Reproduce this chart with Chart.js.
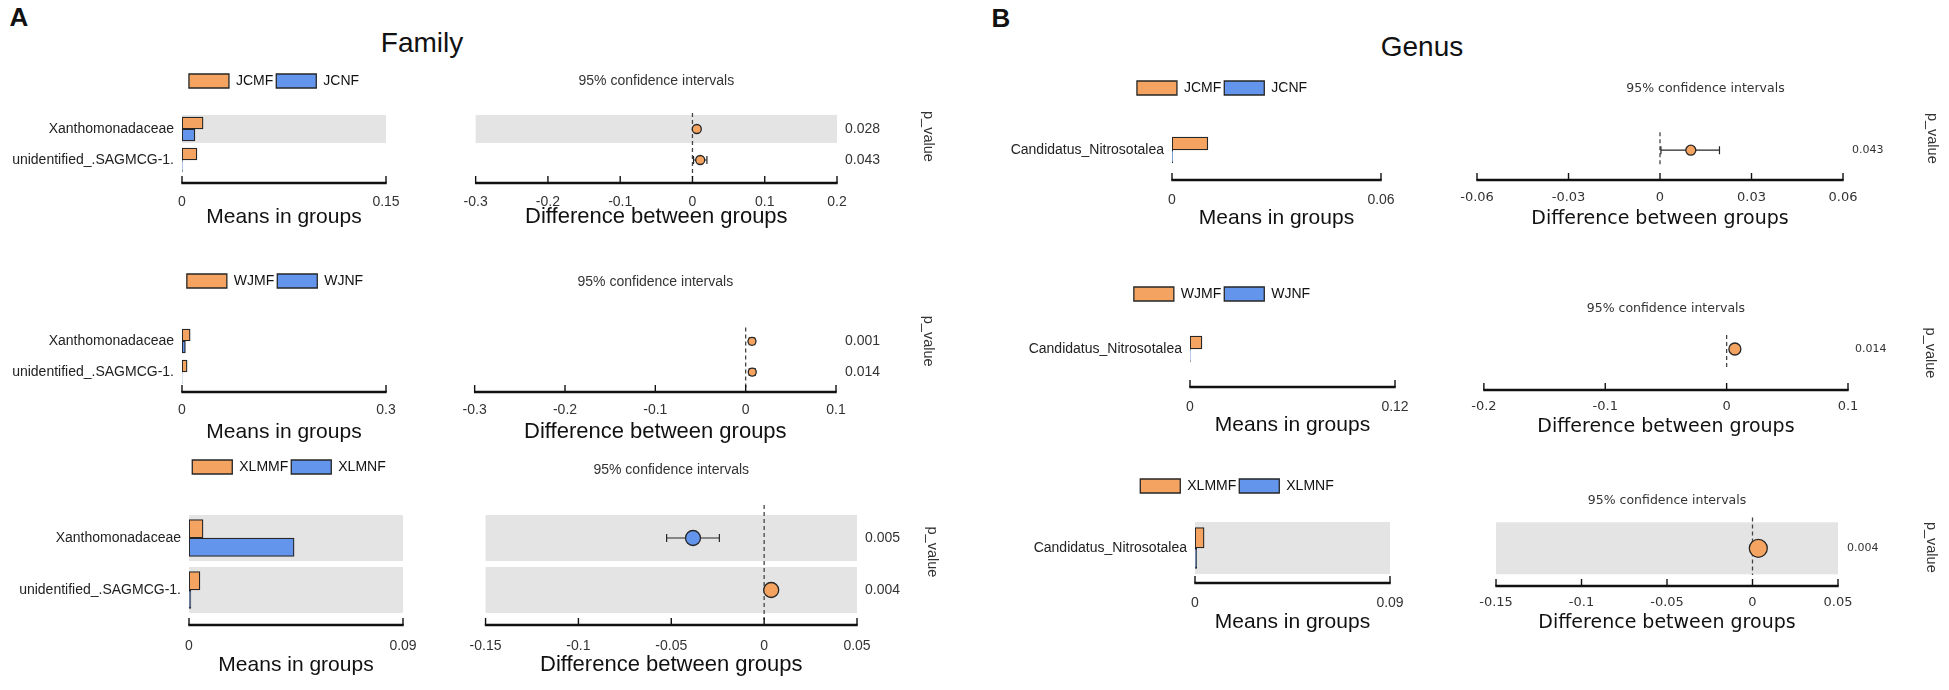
<!DOCTYPE html>
<html>
<head>
<meta charset="utf-8">
<script src="https://cdn.jsdelivr.net/npm/chart.js@4.4.1/dist/chart.umd.min.js"></script>
<style>
body { margin: 0; background: #fff; }
#fig { position: relative; width: 1949px; height: 690px; overflow: hidden; background: #fff; }
.lbl { position: absolute; font-family: "Liberation Sans", Arial, sans-serif; color: #111; white-space: nowrap; line-height: 1; transform: translate(-50%, -50%); }
</style>
</head>
<body>
<div id="fig">
  <div class="lbl" style="left:19px;top:17px;font-size:26px;font-weight:bold">A</div>
  <div class="lbl" style="left:1001px;top:18px;font-size:26px;font-weight:bold">B</div>
  <div class="lbl" style="left:422px;top:43px;font-size:28px">Family</div>
  <div class="lbl" style="left:1422px;top:47px;font-size:28px">Genus</div>
</div>
<script>
// ---- data ----
const familyTaxa = ['Xanthomonadaceae', 'unidentified_.SAGMCG-1.'];
const genusTaxa = ['Candidatus_Nitrosotalea'];

// Family: JCMF vs JCNF
const famJcmf = [0.0155, 0.011];
const famJcnf = [0.0095, 0.0003];
const famJcDiff = [0.006, 0.0107];
const famJcLow = [0.003, 0.0015];
const famJcHigh = [0.009, 0.02];
const famJcP = ['0.028', '0.043'];
const famJcMeanTicks = [0, 0.15];
const famJcDiffTicks = [-0.3, -0.2, -0.1, 0, 0.1, 0.2];

// Family: WJMF vs WJNF
const famWjmf = [0.012, 0.0075];
const famWjnf = [0.005, 0.0002];
const famWjDiff = [0.007, 0.0073];
const famWjLow = [0.004, 0.004];
const famWjHigh = [0.01, 0.0105];
const famWjP = ['0.001', '0.014'];
const famWjMeanTicks = [0, 0.3];
const famWjDiffTicks = [-0.3, -0.2, -0.1, 0, 0.1];

// Family: XLMMF vs XLMNF
const famXlmmf = [0.0059, 0.0046];
const famXlmnf = [0.0442, 0.0008];
const famXlmDiff = [-0.0383, 0.0038];
const famXlmLow = [-0.0525, 0.0015];
const famXlmHigh = [-0.0241, 0.006];
const famXlmP = ['0.005', '0.004'];
const famXlmMeanTicks = [0, 0.09];
const famXlmDiffTicks = [-0.15, -0.1, -0.05, 0, 0.05];

// Genus: JCMF vs JCNF
const genJcmf = [0.0103];
const genJcnf = [0.0002];
const genJcDiff = [0.0101];
const genJcLow = [0.0003];
const genJcHigh = [0.0195];
const genJcP = ['0.043'];
const genJcMeanTicks = [0, 0.06];
const genJcDiffTicks = [-0.06, -0.03, 0, 0.03, 0.06];

// Genus: WJMF vs WJNF
const genWjmf = [0.007];
const genWjnf = [0.0002];
const genWjDiff = [0.0068];
const genWjLow = [0.004];
const genWjHigh = [0.0095];
const genWjP = ['0.014'];
const genWjMeanTicks = [0, 0.12];
const genWjDiffTicks = [-0.2, -0.1, 0, 0.1];

// Genus: XLMMF vs XLMNF
const genXlmmf = [0.0042];
const genXlmnf = [0.0008];
const genXlmDiff = [0.0034];
const genXlmLow = [0.001];
const genXlmHigh = [0.006];
const genXlmP = ['0.004'];
const genXlmMeanTicks = [0, 0.09];
const genXlmDiffTicks = [-0.15, -0.1, -0.05, 0, 0.05];

const ORANGE = '#F4A460';
const BLUE = '#6495ED';
const EDGE = '#262626';
const BAND = '#E4E4E4';

Chart.defaults.font.family = '"Liberation Sans", Arial, sans-serif';
Chart.defaults.color = '#222';

const fig = document.getElementById('fig');
const fmt = v => String(+v.toFixed(4));

// text styles for the confidence-interval plots
const styleA = { family: '"Liberation Sans", Arial, sans-serif', tick: 14, title: 22, head: 14, p: 14 };
const styleB = { family: '"DejaVu Sans", Verdana, sans-serif', tick: 13, title: 19, head: 12.5, p: 11 };

const panels = [
  { taxa: familyTaxa, g1: 'JCMF', g2: 'JCNF', m1: famJcmf, m2: famJcnf, diff: famJcDiff, lo: famJcLow, hi: famJcHigh, p: famJcP,
    meanTicks: famJcMeanTicks, diffTicks: famJcDiffTicks, st: styleA,
    lay: { canvasL: 0, legendC: 274, legendY: 81, barL: 182, barR: 386, axisY: 183, tickY: 202, meanTitleY: 217,
           rows: [129, 160], unit: 31, bandH: 28, barT: 12, shade: [true, false],
           ciHeadY: 81, ciL: 473, ciR: 837, ciAxisY: 183, ciTickY: 202, ciTitleY: 217, pLeft: 845, pValX: 928, dash: [113, 177], ptR: 4.5 } },
  { taxa: familyTaxa, g1: 'WJMF', g2: 'WJNF', m1: famWjmf, m2: famWjnf, diff: famWjDiff, lo: famWjLow, hi: famWjHigh, p: famWjP,
    meanTicks: famWjMeanTicks, diffTicks: famWjDiffTicks, st: styleA,
    lay: { canvasL: 0, legendC: 275, legendY: 281, barL: 182, barR: 386, axisY: 392, tickY: 410, meanTitleY: 432,
           rows: [341, 372], unit: 31, bandH: 28, barT: 12, shade: [false, false],
           ciHeadY: 281, ciL: 473, ciR: 836, ciAxisY: 392, ciTickY: 410, ciTitleY: 432, pLeft: 845, pValX: 928, dash: [327, 388], ptR: 4 } },
  { taxa: familyTaxa, g1: 'XLMMF', g2: 'XLMNF', m1: famXlmmf, m2: famXlmnf, diff: famXlmDiff, lo: famXlmLow, hi: famXlmHigh, p: famXlmP,
    meanTicks: famXlmMeanTicks, diffTicks: famXlmDiffTicks, st: styleA,
    lay: { canvasL: 0, legendC: 289, legendY: 467, barL: 189, barR: 403, axisY: 625, tickY: 646, meanTitleY: 665,
           rows: [538, 590], unit: 52, bandH: 46, barT: 18.5, shade: [true, true],
           ciHeadY: 470, ciL: 477, ciR: 857, ciAxisY: 625, ciTickY: 646, ciTitleY: 665, pLeft: 865, pValX: 932, dash: [505, 620], ptR: 7.5 } },
  { taxa: genusTaxa, g1: 'JCMF', g2: 'JCNF', m1: genJcmf, m2: genJcnf, diff: genJcDiff, lo: genJcLow, hi: genJcHigh, p: genJcP,
    meanTicks: genJcMeanTicks, diffTicks: genJcDiffTicks, st: styleB,
    lay: { canvasL: 985, legendC: 1222, legendY: 88, barL: 1172, barR: 1381, axisY: 180, tickY: 200, meanTitleY: 218,
           rows: [150], unit: 30, bandH: 0, barT: 13, shade: [false],
           ciHeadY: 88, headFull: true, ciL: 1470, ciR: 1843, ciAxisY: 180, ciTickY: 198, ciTitleY: 219, pLeft: 1852, pValX: 1932, dash: [132, 166], ptR: 5 } },
  { taxa: genusTaxa, g1: 'WJMF', g2: 'WJNF', m1: genWjmf, m2: genWjnf, diff: genWjDiff, lo: genWjLow, hi: genWjHigh, p: genWjP,
    meanTicks: genWjMeanTicks, diffTicks: genWjDiffTicks, st: styleB,
    lay: { canvasL: 985, legendC: 1222, legendY: 294, barL: 1190, barR: 1395, axisY: 387, tickY: 407, meanTitleY: 425,
           rows: [349], unit: 30, bandH: 0, barT: 13, shade: [false],
           ciHeadY: 308, ciL: 1482, ciR: 1848, ciAxisY: 390, ciTickY: 407, ciTitleY: 427, pLeft: 1855, pValX: 1930, dash: [335, 368], ptR: 6 } },
  { taxa: genusTaxa, g1: 'XLMMF', g2: 'XLMNF', m1: genXlmmf, m2: genXlmnf, diff: genXlmDiff, lo: genXlmLow, hi: genXlmHigh, p: genXlmP,
    meanTicks: genXlmMeanTicks, diffTicks: genXlmDiffTicks, st: styleB,
    lay: { canvasL: 985, legendC: 1237, legendY: 486, barL: 1195, barR: 1390, axisY: 583, tickY: 603, meanTitleY: 622,
           rows: [548], unit: 30, bandH: 52, barT: 20.5, shade: [true],
           ciHeadY: 500, ciL: 1490, ciR: 1838, ciAxisY: 586, ciTickY: 603, ciTitleY: 623, pLeft: 1847, pValX: 1931, dash: [517, 575], ptR: 9 } }
];

function addCanvas(left, top, w, h) {
  const c = document.createElement('canvas');
  c.width = w;
  c.height = h;
  c.style.cssText = 'position:absolute;left:' + left + 'px;top:' + top + 'px;width:' + w + 'px;height:' + h + 'px';
  fig.appendChild(c);
  return c;
}

// grey shading behind selected rows
function bandPlugin(shade, bandH) {
  return {
    id: 'bands',
    beforeDatasetsDraw(chart) {
      const { ctx, chartArea: a, scales: { y } } = chart;
      ctx.save();
      ctx.fillStyle = BAND;
      shade.forEach((s, i) => {
        if (!s) return;
        const py = y.getPixelForValue(i);
        ctx.fillRect(a.left, py - bandH / 2, a.right - a.left, bandH);
      });
      ctx.restore();
    }
  };
}

// thick axis line with small upward ticks
function axisPlugin(ticks) {
  return {
    id: 'axisLine',
    afterDraw(chart) {
      const x = chart.scales.x, ctx = chart.ctx, y = chart.chartArea.bottom;
      ctx.save();
      ctx.strokeStyle = '#111';
      ctx.lineWidth = 2.6;
      ctx.beginPath();
      ctx.moveTo(x.getPixelForValue(x.min) - 0.7, y);
      ctx.lineTo(x.getPixelForValue(x.max) + 0.7, y);
      ctx.stroke();
      ctx.lineWidth = 1.4;
      ticks.forEach(v => {
        const px = x.getPixelForValue(v);
        ctx.beginPath();
        ctx.moveTo(px, y);
        ctx.lineTo(px, y - 7);
        ctx.stroke();
      });
      ctx.restore();
    }
  };
}

function rowRange(L, top) {
  return { min: -(L.rows[0] - top) / L.unit, max: (L.axisY - L.rows[0]) / L.unit };
}

function barChart(d) {
  const L = d.lay;
  const left = L.canvasL;
  const top = Math.round(L.legendY - 10);
  const bottom = Math.round(L.meanTitleY + 12.6);
  const yW = L.barL - left;
  const w = Math.round(2 * (L.legendC - left));
  const h = bottom - top;
  const xH = bottom - L.axisY;
  const rightW = w - (L.barR - left);
  const r = rowRange(L, top + 27);
  const cv = addCanvas(left, top, w, h);
  const last = d.meanTicks.length - 1;

  new Chart(cv, {
    type: 'bar',
    data: {
      datasets: [
        { label: d.g1, data: d.m1.map((v, i) => ({ x: v, y: i })), backgroundColor: ORANGE, borderColor: EDGE,
          borderWidth: 1.3, borderSkipped: false, barThickness: L.barT },
        { label: d.g2, data: d.m2.map((v, i) => ({ x: v, y: i })), backgroundColor: BLUE, borderColor: EDGE,
          borderWidth: 1.3, borderSkipped: false, barThickness: L.barT }
      ]
    },
    options: {
      indexAxis: 'y',
      responsive: false,
      animation: false,
      layout: { padding: 0 },
      scales: {
        x: {
          type: 'linear', position: 'bottom', min: d.meanTicks[0], max: d.meanTicks[last], bounds: 'data',
          grid: { display: false, drawTicks: false }, border: { display: false },
          afterBuildTicks: s => { s.ticks = d.meanTicks.map(v => ({ value: v })); },
          afterFit: s => { s.height = xH; },
          ticks: { padding: L.tickY - L.axisY - 8.4, font: { size: 14 }, color: '#333', autoSkip: false,
                   maxRotation: 0, minRotation: 0, callback: v => fmt(v) },
          title: { display: true, text: 'Means in groups', font: { size: 21 }, color: '#111', padding: 0 }
        },
        y: {
          type: 'linear', reverse: true, offset: false, min: r.min, max: r.max, bounds: 'data',
          grid: { display: false, drawTicks: false }, border: { display: false },
          afterBuildTicks: s => { s.ticks = d.taxa.map((t, i) => ({ value: i })); },
          afterFit: s => { s.width = yW; },
          ticks: { padding: 8, font: { size: 14 }, color: '#222', autoSkip: false, callback: v => d.taxa[v] }
        },
        // empty right-hand spacer so that the legend centres where the original sits
        yr: {
          type: 'linear', position: 'right', min: 0, max: 1,
          grid: { display: false, drawTicks: false }, border: { display: false }, ticks: { display: false },
          afterFit: s => { s.width = rightW; }
        }
      },
      plugins: {
        legend: {
          display: true, position: 'top', align: 'center', fullSize: true,
          labels: { boxWidth: 40, boxHeight: 14, padding: 3, font: { size: 14 }, color: '#111' }
        },
        tooltip: { enabled: false },
        title: { display: false }
      }
    },
    plugins: [bandPlugin(L.shade, L.bandH), axisPlugin(d.meanTicks)]
  });
}

function ciChart(d) {
  const L = d.lay, S = d.st;
  const headLH = S.head * 1.2, titleLH = S.title * 1.2, pvLH = 14.5 * 1.2;
  const left = Math.round(L.ciL - 20);
  const top = Math.round(L.ciHeadY - headLH / 2);
  const bottom = Math.round(L.ciTitleY + titleLH / 2);
  const right = Math.round(L.pValX + pvLH / 2);
  const w = right - left, h = bottom - top;
  const padL = L.ciL - left;
  const xH = bottom - L.ciAxisY;
  const y2W = right - L.ciR;
  const lay = Object.assign({}, L, { axisY: L.ciAxisY });
  const r = rowRange(lay, top + headLH);
  const last = d.diffTicks.length - 1;
  const cv = addCanvas(left, top, w, h);

  const errorBars = d.lo.map((lo, i) => ({
    data: [{ x: lo, y: i }, { x: d.hi[i], y: i }],
    showLine: true, borderColor: EDGE, borderWidth: 1.2,
    pointStyle: 'line', pointRotation: 90, pointRadius: 4, pointBorderColor: EDGE, pointBorderWidth: 1.2,
    order: 1
  }));

  new Chart(cv, {
    type: 'scatter',
    data: {
      datasets: [
        { data: d.diff.map((v, i) => ({ x: v, y: i })), pointRadius: L.ptR,
          pointBackgroundColor: d.diff.map(v => v > 0 ? ORANGE : BLUE),
          pointBorderColor: EDGE, pointBorderWidth: 1.3, order: 0 },
        ...errorBars,
        { data: [{ x: 0, y: (L.dash[0] - L.rows[0]) / L.unit }, { x: 0, y: (L.dash[1] - L.rows[0]) / L.unit }],
          showLine: true, borderColor: '#444', borderWidth: 1.3, borderDash: [4, 3], pointRadius: 0, order: 2 }
      ]
    },
    options: {
      responsive: false,
      animation: false,
      layout: { padding: { left: padL, right: 0, top: 0, bottom: 0 } },
      scales: {
        x: {
          type: 'linear', position: 'bottom', min: d.diffTicks[0], max: d.diffTicks[last], bounds: 'data',
          grid: { display: false, drawTicks: false }, border: { display: false },
          afterBuildTicks: s => { s.ticks = d.diffTicks.map(v => ({ value: v })); },
          afterFit: s => { s.height = xH; },
          ticks: { padding: L.ciTickY - L.ciAxisY - S.tick * 0.6, font: { family: S.family, size: S.tick }, color: '#333',
                   autoSkip: false, maxRotation: 0, minRotation: 0, callback: v => fmt(v) },
          title: { display: true, text: 'Difference between groups', font: { family: S.family, size: S.title }, color: '#111', padding: 0 }
        },
        y: {
          type: 'linear', display: false, reverse: true, min: r.min, max: r.max, bounds: 'data'
        },
        y2: {
          type: 'linear', position: 'right', reverse: true, min: r.min, max: r.max, bounds: 'data',
          grid: { display: false, drawTicks: false }, border: { display: false },
          afterBuildTicks: s => { s.ticks = d.p.map((t, i) => ({ value: i })); },
          afterFit: s => { s.width = y2W; },
          ticks: { padding: L.pLeft - L.ciR, font: { family: S.family, size: S.p }, color: '#333', autoSkip: false,
                   callback: v => d.p[v] },
          title: { display: true, text: 'p_value', font: { size: 14.5 }, color: '#333', padding: 0 }
        }
      },
      plugins: {
        legend: { display: false },
        tooltip: { enabled: false },
        title: { display: true, text: '95% confidence intervals', fullSize: !!L.headFull,
                 font: { family: S.family, size: S.head, weight: 'normal' }, color: '#333', padding: 0 }
      }
    },
    plugins: [bandPlugin(L.shade, L.bandH), axisPlugin(d.diffTicks)]
  });
}

panels.forEach(p => {
  barChart(p);
  ciChart(p);
});
</script>
</body>
</html>
